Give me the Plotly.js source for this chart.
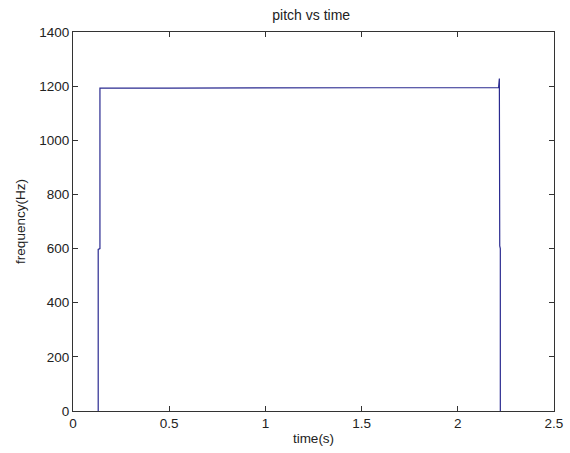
<!DOCTYPE html>
<html>
<head>
<meta charset="utf-8">
<script src="https://cdn.plot.ly/plotly-3.0.1.min.js"></script>
<style>html,body{margin:0;padding:0;background:#fff;}#chart{width:570px;height:453px;}</style>
</head>
<body>
<div id="chart"></div>
<script>
const timeS = [0.131, 0.131, 0.140, 0.140, 0.5, 1.0, 1.5, 2.0, 2.212, 2.214, 2.216, 2.218, 2.221, 2.221];
const pitchHz = [0, 597, 600, 1193, 1193, 1193, 1193, 1193, 1195, 1212, 1228, 610, 600, 0];
const xTicks = [0, 0.5, 1, 1.5, 2, 2.5];
const xTickText = ['0', '0.5', '1', '1.5', '2', '2.5'];
const yTicks = [0, 200, 400, 600, 800, 1000, 1200, 1400];

const font = {family: 'Liberation Sans, Arial, sans-serif', size: 13.5, color: '#222'};
const axisCommon = {
  showgrid: false, zeroline: false, showline: true, linecolor: '#333', linewidth: 1,
  mirror: 'ticks', ticks: 'inside', ticklen: 5, tickcolor: '#333', tickfont: font
};
Plotly.newPlot('chart', [{
  x: timeS, y: pitchHz, type: 'scatter', mode: 'lines',
  line: {color: '#2a2a90', width: 1.2}
}], {
  width: 570, height: 453,
  margin: {l: 73, r: 16, t: 32, b: 42},
  paper_bgcolor: '#fff', plot_bgcolor: '#fff',
  showlegend: false,
  title: {text: 'pitch vs time', font: {family: font.family, size: 14, color: '#222'}, x: 0.546, xanchor: 'center', y: 0.966, yanchor: 'middle'},
  xaxis: Object.assign({}, axisCommon, {range: [0, 2.5], tickvals: xTicks, ticktext: xTickText,
    title: {text: 'time(s)', font: font, standoff: 3}}),
  yaxis: Object.assign({}, axisCommon, {range: [0, 1400], tickvals: yTicks,
    title: {text: 'frequency(Hz)', font: font, standoff: 10}})
}, {displayModeBar: false, staticPlot: true});
</script>
</body>
</html>
